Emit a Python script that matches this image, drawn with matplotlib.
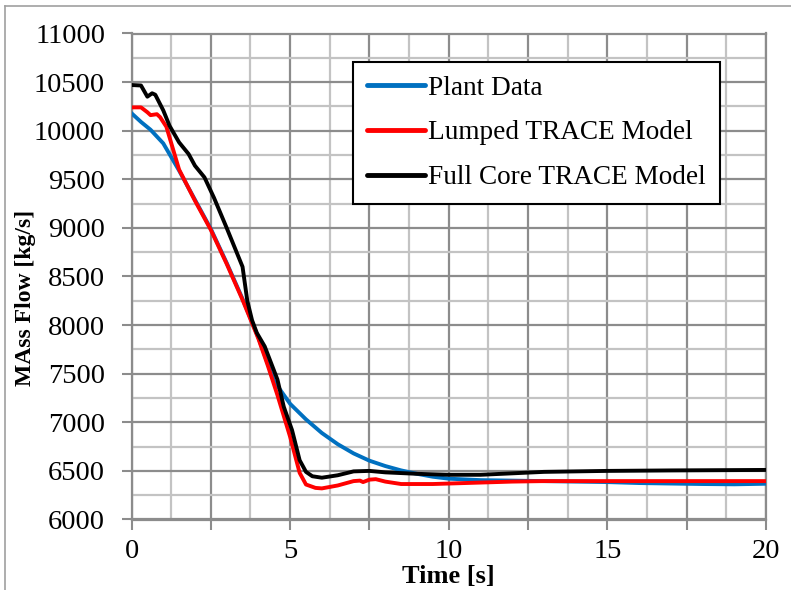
import matplotlib
matplotlib.use("Agg")
import matplotlib.pyplot as plt
from matplotlib.ticker import MultipleLocator, FuncFormatter
from matplotlib.lines import Line2D

# ---- data ----
plant_t = [0, 0.3, 0.6, 1.0, 1.5, 2.0, 2.5, 3.0, 3.5, 4.0, 4.3, 4.5, 5.0, 5.5, 6.0, 6.5,
           7.0, 7.5, 8.0, 8.5, 9.0, 9.5, 10, 11, 12, 13, 14, 15, 16, 17, 18, 19, 20]
plant_q = [10180, 10090, 10010, 9870, 9590, 9290, 8990, 8640, 8270, 7870, 7600, 7420, 7190,
           7030, 6890, 6775, 6680, 6605, 6550, 6505, 6470, 6440, 6420, 6405, 6400, 6395,
           6390, 6385, 6375, 6370, 6365, 6362, 6368]

lumped_t = [0, 0.3, 0.5, 0.6, 0.8, 0.9, 1.1, 1.5, 2.0, 2.5, 3.0, 3.5, 4.0, 4.3, 4.6, 5.0,
            5.3, 5.5, 5.8, 6.0, 6.5, 7.0, 7.2, 7.3, 7.5, 7.7, 8.0, 8.5, 9.5, 10, 11, 12, 13,
            15, 20]
lumped_q = [10240, 10240, 10190, 10160, 10170, 10140, 10040, 9600, 9280, 8980, 8630, 8260,
            7860, 7580, 7280, 6850, 6480, 6360, 6325, 6320, 6350, 6395, 6400, 6385, 6410,
            6415, 6390, 6365, 6365, 6370, 6380, 6390, 6395, 6395, 6395]

full_t = [0, 0.3, 0.5, 0.65, 0.75, 1.0, 1.2, 1.5, 1.8, 2.0, 2.3, 2.6, 3.0, 3.5, 3.65, 3.8,
          3.95, 4.2, 4.6, 4.8, 5.06, 5.3, 5.5, 5.7, 6.0, 6.5, 7.0, 7.5, 8.0, 9.0, 10, 11,
          12, 13, 15, 17, 20]
full_q = [10470, 10465, 10350, 10385, 10370, 10210, 10050, 9880, 9760, 9640, 9520, 9310,
          9000, 8600, 8250, 8050, 7920, 7780, 7440, 7160, 6920, 6610, 6490, 6445, 6430,
          6455, 6495, 6500, 6485, 6470, 6460, 6460, 6475, 6490, 6500, 6505, 6510]

series_labels = ["Plant Data", "Lumped TRACE Model", "Full Core TRACE Model"]
x_label = "Time [s]"
y_label = "MAss Flow [kg/s]"

# ---- figure ----
plt.rcParams['font.family'] = ['Liberation Serif', 'DejaVu Serif']
fig = plt.figure(figsize=(7.91, 5.90), dpi=100)
ax = fig.add_axes([131.5/791, 1-519.5/590, (766-131.5)/791, (519.5-33.5)/590])

lw = 2.8
ax.plot(plant_t, plant_q, color='#0070C0', lw=lw, label=series_labels[0], zorder=3)
ax.plot(lumped_t, lumped_q, color='#FF0000', lw=lw, label=series_labels[1], zorder=4)
ax.plot(full_t, full_q, color='black', lw=lw, label=series_labels[2], zorder=5)

ax.set_xlim(0, 20)
ax.set_ylim(6000, 11000)

major_c = '#8C8C8C'
minor_c = '#C3C3C3'
ax.xaxis.set_major_locator(MultipleLocator(2.5))
ax.xaxis.set_minor_locator(MultipleLocator(1.25))
ax.yaxis.set_major_locator(MultipleLocator(500))
ax.yaxis.set_minor_locator(MultipleLocator(250))
ax.xaxis.set_major_formatter(FuncFormatter(
    lambda v, p: (f"{int(round(v))}" if abs(v/5 - round(v/5)) < 1e-6 else "")))
ax.yaxis.set_major_formatter(FuncFormatter(lambda v, p: f"{int(v)}"))

ax.grid(which='major', color=major_c, lw=1.6, zorder=0)
ax.grid(which='minor', color=minor_c, lw=1.6, zorder=0)
ax.set_axisbelow(True)
for s in ax.spines.values():
    s.set_color(major_c)
    s.set_linewidth(1.6)

ax.tick_params(axis='both', which='major', direction='out', length=7, width=1.5,
               color=major_c, labelsize=20.5, labelcolor='black')
ax.tick_params(axis='x', pad=7)
ax.tick_params(axis='y', pad=12)
ax.tick_params(which='minor', length=0)

fig.text(448/791, 1-577/590, x_label, ha='center', va='center',
         fontsize=19, fontweight='bold')
fig.text(26/791, 1-298/590, y_label, ha='center', va='center', rotation=90,
         fontsize=17, fontweight='bold')

leg = ax.legend(loc='upper left', bbox_to_anchor=(0.349, 0.941), borderaxespad=0,
                fontsize=19.6, frameon=True, fancybox=False, edgecolor='black',
                handlelength=2.15, handletextpad=0.12, labelspacing=0.72,
                borderpad=0.5)
leg.get_frame().set_linewidth(1.5)
leg.get_frame().set_facecolor('white')
leg.get_frame().set_alpha(1)
for h in leg.get_lines():
    h.set_linewidth(3.5)
    h.set_solid_capstyle('round')

# outer chart border (partially visible)
fig.add_artist(Line2D([5/791, 1.0], [1-6/590, 1-6/590], color='#A0A0A0', lw=1.2,
                      transform=fig.transFigure))
fig.add_artist(Line2D([5/791, 5/791], [0.0, 1-6/590], color='#A0A0A0', lw=1.2,
                      transform=fig.transFigure))

fig.savefig('out.png', dpi=100)
